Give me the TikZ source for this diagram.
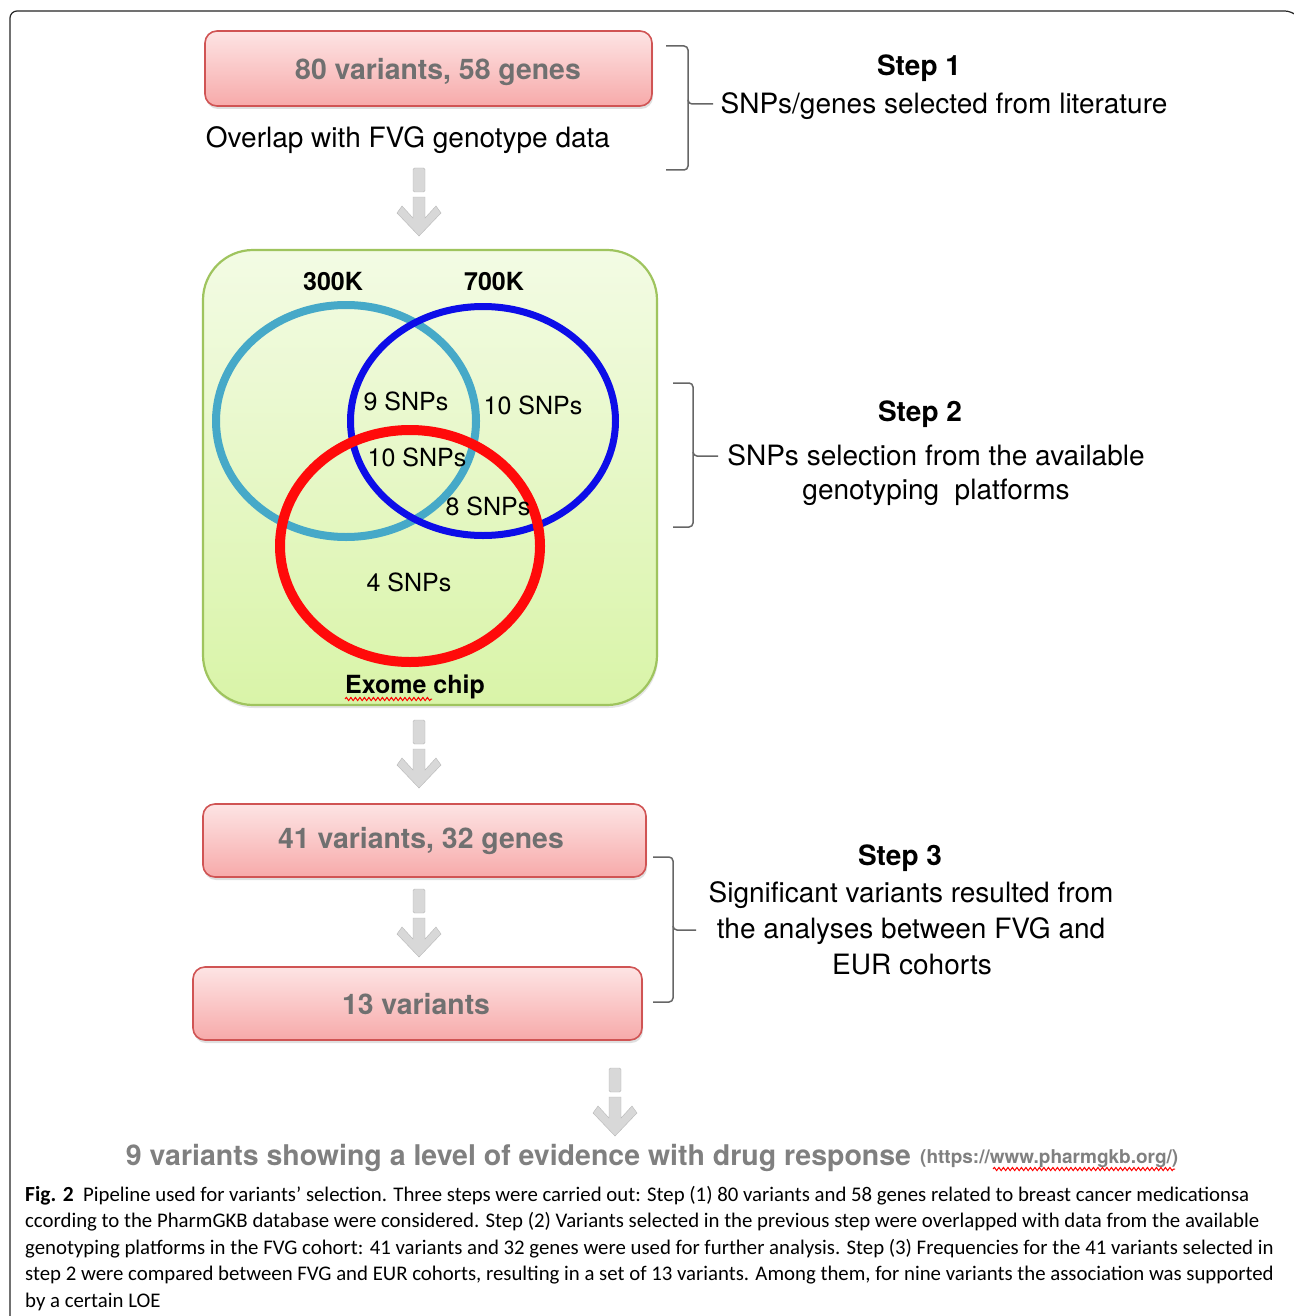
\documentclass[tikz,border=0pt]{standalone}
\usepackage{fontspec}
\setmainfont{TeX Gyre Heros}
\newfontfamily\capfont{Carlito}
\usetikzlibrary{shapes.geometric,shadows,decorations.pathmorphing}
\definecolor{boxtxt}{HTML}{707070}
\definecolor{pinktop}{HTML}{FDE4E4}
\definecolor{pinkbot}{HTML}{F7AAAA}
\definecolor{pinkline}{HTML}{D05454}
\definecolor{greentop}{HTML}{F3FBE4}
\definecolor{greenbot}{HTML}{D9F4A8}
\definecolor{greenline}{HTML}{9FC45E}
\definecolor{cyanv}{HTML}{46A9C8}
\definecolor{bluev}{HTML}{0D0DE8}
\definecolor{redv}{HTML}{FF0A0A}
\definecolor{arrowgray}{HTML}{D8D8D8}
\definecolor{brackgray}{HTML}{666666}
\definecolor{finalgray}{HTML}{808080}
\tikzset{
  pinkbox/.style={draw=pinkline, line width=1.6pt, rounded corners=12pt, top color=pinktop, bottom color=pinkbot,
    text=boxtxt, font=\fontsize{28.4}{32}\selectfont\bfseries, inner sep=0pt,
    drop shadow={shadow xshift=1pt, shadow yshift=-3pt, opacity=0.25}},
  boxlabel/.style={text=boxtxt, font=\fontsize{28.4}{32}\selectfont\bfseries, inner sep=0pt},
  vennring/.style={ellipse, inner sep=0pt},
  venntxt/.style={font=\fontsize{25}{28}\selectfont, text=black, inner sep=0pt},
  vennhead/.style={font=\fontsize{25}{28}\selectfont\bfseries, text=black, inner sep=0pt},
  steptitle/.style={font=\fontsize{28}{32}\selectfont\bfseries, inner sep=0pt},
  steptxt/.style={font=\fontsize{28}{32}\selectfont, inner sep=0pt},
  bracket/.style={draw=brackgray, line width=1.5pt, rounded corners=4pt},
  capline/.style={anchor=base west, inner sep=0pt, font=\capfont\fontsize{20.8}{22}\selectfont},
  squiggle/.style={draw=red, line width=1pt, decorate, decoration={snake, amplitude=1.6pt, segment length=4.5pt}},
  blockarrow/.pic={
    \fill[arrowgray, draw=arrowgray!85!black, line width=0.4pt, rounded corners=1.5pt] (-6,0) rectangle (6,24);
    \fill[arrowgray, draw=arrowgray!85!black, line width=0.4pt] (-6,29) -- (6,29) -- (6,50) -- (17,38) -- (22,45) -- (0,68) -- (-22,45) -- (-17,38) -- (-6,50) -- cycle;
  }
}
\begin{document}
\begin{tikzpicture}[x=1pt,y=-1pt]
\useasboundingbox (0,0) rectangle (1293,1316);
\fill[white] (0,0) rectangle (1293,1316);
% frame
\draw[line width=1.2pt, draw=black!85, rounded corners=7pt] (10,1330) -- (10,11) -- (1292,11) -- (1300,19);

% step 1
\node[pinkbox, minimum width=447pt, minimum height=75pt] (b1) at (428.5,68.5) {};
\node[boxlabel] (b1t) at (438,72) {80 variants, 58 genes};
\node[steptxt] (ov) at (408,140) {Overlap with FVG genotype data};
\coordinate (br1top) at (666,46);
\coordinate (br1bot) at (666,170);
\coordinate (br1tip) at (713,104);
\draw[bracket] (br1top) -- (688,46) -- (688,104) -- (br1tip);
\draw[bracket] (688,100) -- (688,170) -- (br1bot);
\node[steptitle] (s1) at (919,68) {Step 1};
\node[steptxt] (s1t) at (944,106) {SNPs/genes selected from literature};

% arrow 1
\pic at (419,168) {blockarrow};

% step 2 green box
\node[draw=greenline, line width=2.2pt, rounded corners=50pt, top color=greentop, bottom color=greenbot,
  minimum width=454pt, minimum height=455pt, inner sep=0pt,
  drop shadow={shadow xshift=1pt, shadow yshift=-3pt, opacity=0.2}] (gbox) at (430,477.5) {};
\node[vennring, draw=cyanv, line width=8pt, minimum width=260pt, minimum height=232pt] (c300) at (346,421) {};
\node[vennring, draw=bluev, line width=7pt, minimum width=265pt, minimum height=229pt] (c700) at (483,421) {};
\node[vennring, draw=redv, line width=10pt, minimum width=260pt, minimum height=232pt] (cex) at (410,546) {};
\node[vennhead] (l300) at (333,281) {300K};
\node[vennhead] (l700) at (494,281) {700K};
\node[venntxt] (n9) at (406,401) {9 SNPs};
\node[venntxt] (n10a) at (533,405) {10 SNPs};
\node[venntxt] (n10b) at (417,457) {10 SNPs};
\node[venntxt] (n8) at (488,506) {8 SNPs};
\node[venntxt] (n4) at (409,582) {4 SNPs};
\node[vennhead] (lex) at (415,687) {Exome chip};
\draw[squiggle] (345,699) -- (432,699);

\coordinate (br2top) at (673,383);
\coordinate (br2bot) at (673,527);
\coordinate (br2tip) at (718,456);
\draw[bracket] (br2top) -- (693,383) -- (693,456) -- (br2tip);
\draw[bracket] (693,452) -- (693,527) -- (br2bot);
\node[steptitle] (s2) at (920,414) {Step 2};
\node[steptxt] (s2a) at (936,455) {SNPs selection from the available};
\node[steptxt] (s2b) at (936,492) {genotyping\ \ platforms};

% arrow 2
\pic at (419,720) {blockarrow};

% step 3
\node[pinkbox, minimum width=443pt, minimum height=73pt] (b2) at (424.5,840.5) {};
\node[boxlabel] (b2t) at (421,841) {41 variants, 32 genes};
\pic at (419,889) {blockarrow};
\node[pinkbox, minimum width=449pt, minimum height=73pt] (b3) at (417.5,1003.5) {};
\node[boxlabel] (b3t) at (416,1004) {13 variants};
\coordinate (br3top) at (653,857);
\coordinate (br3bot) at (653,1002);
\coordinate (br3tip) at (696,930);
\draw[bracket] (br3top) -- (673,857) -- (673,930) -- (br3tip);
\draw[bracket] (673,926) -- (673,1002) -- (br3bot);
\node[steptitle] (s3) at (900,858) {Step 3};
\node[steptxt] (s3a) at (911,895) {Significant variants resulted from};
\node[steptxt] (s3b) at (911,931) {the analyses between FVG and};
\node[steptxt] (s3c) at (912,965) {EUR cohorts};

% arrow 4
\pic at (615,1068) {blockarrow};

% final
\node[font=\fontsize{28.5}{32}\selectfont\bfseries, text=finalgray, inner sep=0pt] (fin) at (518.5,1158) {9 variants showing a level of evidence with drug response};
\node[font=\fontsize{19}{22}\selectfont\bfseries, text=finalgray, inner sep=0pt, anchor=west] (url) at (920,1159) {(https://www.pharmgkb.org/)};
\draw[squiggle] (993,1169) -- (1175,1169);

% caption
\node[capline] (cap1) at (25,1201) {{\fontsize{21.5}{22}\selectfont\bfseries Fig. 2}\ \ Pipeline used for variants’ selection. Three steps were carried out: Step (1) 80 variants and 58 genes related to breast cancer medicationsa};
\node[capline] (cap2) at (25,1227.5) {ccording to the PharmGKB database were considered. Step (2) Variants selected in the previous step were overlapped with data from the available};
\node[capline] (cap3) at (25,1254) {genotyping platforms in the FVG cohort: 41 variants and 32 genes were used for further analysis. Step (3) Frequencies for the 41 variants selected in};
\node[capline] (cap4) at (25,1280.5) {step 2 were compared between FVG and EUR cohorts, resulting in a set of 13 variants. Among them, for nine variants the association was supported};
\node[capline] (cap5) at (25,1307) {by a certain LOE};
\end{tikzpicture}
\end{document}
